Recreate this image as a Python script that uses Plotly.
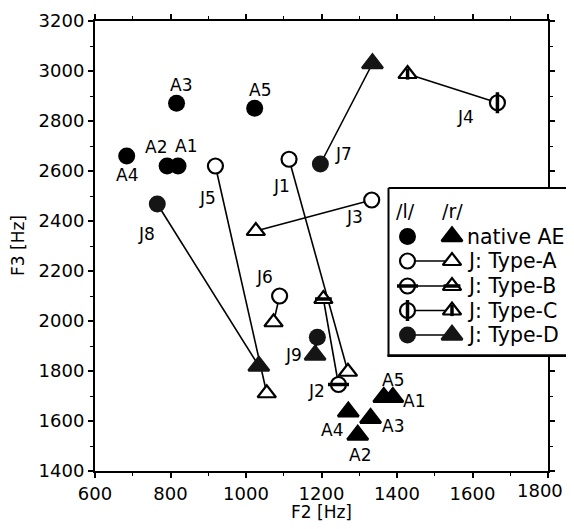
import plotly.graph_objects as go

# ---------------- data ----------------
native_labels = ["A1", "A2", "A3", "A4", "A5"]
native_l_f2 = [820, 791, 816, 684, 1023]
native_l_f3 = [2620, 2620, 2871, 2660, 2851]
native_r_f2 = [1389, 1296, 1330, 1271, 1365]
native_r_f3 = [1695, 1544, 1611, 1637, 1695]

j_labels = ["J1", "J2", "J3", "J4", "J5", "J6", "J7", "J8", "J9"]
j_l_f2 = [1114, 1245, 1333, 1666, 919, 1089, 1197, 765, 1189]
j_l_f3 = [2647, 1746, 2484, 2873, 2620, 2100, 2628, 2468, 1935]
j_r_f2 = [1270, 1205, 1026, 1428, 1055, 1073, 1335, 1034, 1183]
j_r_f3 = [1797, 2088, 2360, 2988, 1711, 1995, 3030, 1820, 1864]
j_type = ["A", "B", "A", "C", "A", "A", "D", "D", "D"]

x_ticks = [600, 800, 1000, 1200, 1400, 1600, 1800]
y_ticks = [1400, 1600, 1800, 2000, 2200, 2400, 2600, 2800, 3000, 3200]

legend_rows = ["native AE", "J: Type-A", "J: Type-B", "J: Type-C", "J: Type-D"]
legend_kinds = ["N", "A", "B", "C", "D"]

# ---------------- styling ----------------
FONT = "DejaVu Sans"
OFF = 8                      # page body margin
W, H = 574 - 2 * OFF, 529 - 2 * OFF   # keep the page free of scrollbars
ML = 95 - OFF                # left edge of plot (page x 95)
MT = 21 - OFF                # top edge of plot (page y 21)
PB = 471 - OFF               # bottom of plot (page y 471)
MB = H - PB
PLOT_R = 548 - OFF           # right edge of main plot
PW = W - ML
PH = PB - MT

fig = go.Figure()


def add_marks(x, y, kind, shape, xa="x", ya="y"):
    tri = shape == "triangle-up"
    if kind in ("N", "D"):
        col = "black" if kind == "N" else "#151515"
        fig.add_trace(go.Scatter(x=x, y=y, mode="markers", xaxis=xa, yaxis=ya,
                                 hoverinfo="skip", showlegend=False,
                                 marker=dict(symbol=shape, size=18 if tri else 17, color=col,
                                             line=dict(color=col, width=2.5 if tri else 0))))
        return
    fig.add_trace(go.Scatter(x=x, y=y, mode="markers", xaxis=xa, yaxis=ya,
                             hoverinfo="skip", showlegend=False,
                             marker=dict(symbol=shape, size=16 if tri else 15, color="white",
                                         line=dict(color="black", width=2.2))))
    if kind == "B":
        fig.add_trace(go.Scatter(x=x, y=y, mode="markers", xaxis=xa, yaxis=ya,
                                 hoverinfo="skip", showlegend=False,
                                 marker=dict(symbol="line-ew", size=12 if tri else 15,
                                             line=dict(color="black", width=3.5))))
    if kind == "C":
        fig.add_trace(go.Scatter(x=x, y=y, mode="markers", xaxis=xa, yaxis=ya,
                                 hoverinfo="skip", showlegend=False,
                                 marker=dict(symbol="line-ns", size=8 if tri else 15,
                                             line=dict(color="black", width=3.5))))


# connecting lines for Japanese speakers
lx, ly = [], []
for i in range(len(j_labels)):
    lx += [j_l_f2[i], j_r_f2[i], None]
    ly += [j_l_f3[i], j_r_f3[i], None]
fig.add_trace(go.Scatter(x=lx, y=ly, mode="lines", hoverinfo="skip", showlegend=False,
                         line=dict(color="black", width=1.6)))

add_marks(native_l_f2, native_l_f3, "N", "circle")
add_marks(native_r_f2, native_r_f3, "N", "triangle-up")
for t in ["A", "B", "C", "D"]:
    idx = [i for i, k in enumerate(j_type) if k == t]
    add_marks([j_r_f2[i] for i in idx], [j_r_f3[i] for i in idx], t, "triangle-up")
    add_marks([j_l_f2[i] for i in idx], [j_l_f3[i] for i in idx], t, "circle")

# ---------------- point labels ----------------
ann = []
off_l = {"A1": (8, -20), "A2": (-11, -19), "A3": (4, -18), "A4": (0, 19), "A5": (5, -18)}
off_r = {"A1": (21, 4), "A2": (2, 20), "A3": (22, 8), "A4": (-16, 18), "A5": (9, -17)}
off_j = {"J1": (-8, 27), "J2": (-22, 6), "J3": (-17, 17), "J4": (-32, 14), "J5": (-8, 32),
         "J6": (-15, -19), "J7": (23, -10), "J8": (-11, 30), "J9": (-22, 0)}


def lab(x, y, text, off):
    ann.append(dict(x=x, y=y, xref="x", yref="y", text=text, showarrow=False,
                    xshift=off[0], yshift=-off[1], font=dict(family=FONT, size=17, color="black")))


for i, n in enumerate(native_labels):
    lab(native_l_f2[i], native_l_f3[i], n, off_l[n])
    lab(native_r_f2[i], native_r_f3[i], n, off_r[n])
for i, n in enumerate(j_labels):
    if n == "J9":
        lab(j_r_f2[i], j_r_f3[i], n, off_j[n])
    else:
        lab(j_l_f2[i], j_l_f3[i], n, off_j[n])

# ---------------- legend (separate subplot, page-pixel units) ----------------
LX0, LX1, LY0, LY1 = 387, 574 - OFF, 187, 357
fig.add_trace(go.Scatter(x=[388.5, 620, 620, 388.5, 388.5], y=[188, 188, 355.5, 355.5, 188],
                         mode="lines", fill="toself", fillcolor="white", xaxis="x2", yaxis="y2",
                         line=dict(color="black", width=2), hoverinfo="skip", showlegend=False))
fig.add_trace(go.Scatter(x=[387.5, 620], y=[356, 356], mode="lines", xaxis="x2", yaxis="y2",
                         line=dict(color="black", width=3), hoverinfo="skip", showlegend=False))
row_y = [236.5, 261, 286, 310.5, 335]
cx, tx, txt_x = 407.5, 452, 465
for k, yv, name in zip(legend_kinds, row_y, legend_rows):
    if k != "N":
        fig.add_trace(go.Scatter(x=[cx, tx], y=[yv, yv], mode="lines", xaxis="x2", yaxis="y2",
                                 line=dict(color="black", width=1.6), hoverinfo="skip",
                                 showlegend=False))
    add_marks([tx], [yv], k, "triangle-up", "x2", "y2")
    add_marks([cx], [yv], k, "circle", "x2", "y2")
    ann.append(dict(x=txt_x, y=yv, xref="x2", yref="y2", text=name, showarrow=False,
                    xanchor="left", yanchor="middle",
                    font=dict(family=FONT, size=20.5, color="black")))
ann.append(dict(x=405, y=211, xref="x2", yref="y2", text="/l/", showarrow=False,
                font=dict(family=FONT, size=19, color="black")))
ann.append(dict(x=452, y=211, xref="x2", yref="y2", text="/r/", showarrow=False,
                font=dict(family=FONT, size=19, color="black")))

# last x tick label, pulled in so it stays inside the page
ann.append(dict(x=x_ticks[-1], y=0, xref="x", yref="paper", text=str(x_ticks[-1]),
                showarrow=False, xanchor="right", yanchor="middle", xshift=17, yshift=-19,
                font=dict(family=FONT, size=18, color="black")))

# ---------------- axis titles (page-pixel positions) ----------------
ann.append(dict(x=((95 + 548) / 2 - 95) / PW, y=(471 - 512) / PH, xref="paper", yref="paper",
                text="F2 [Hz]", showarrow=False, yanchor="middle",
                font=dict(family=FONT, size=17, color="black")))
ann.append(dict(x=(18 - 95) / PW, y=0.5, xref="paper", yref="paper", text="F3 [Hz]",
                showarrow=False, textangle=-90, xanchor="center", yanchor="middle",
                font=dict(family=FONT, size=17, color="black")))

axis_common = dict(showgrid=False, zeroline=False, showline=True, linecolor="black", linewidth=2,
                   mirror="ticks", ticks="outside", ticklen=5, tickwidth=1.5, tickcolor="black",
                   layer="below traces",
                   tickfont=dict(family=FONT, size=18, color="black"),
                   minor=dict(ticks="outside", ticklen=3, tickwidth=1.2, tickcolor="black"))

fig.update_layout(
    width=W, height=H,
    margin=dict(l=ML, r=0, t=MT, b=MB, pad=0),
    paper_bgcolor="white", plot_bgcolor="white",
    showlegend=False,
    annotations=ann,
    xaxis=dict(range=[600, 1800], tickvals=x_ticks,
               ticktext=[str(v) for v in x_ticks[:-1]] + [""],
               domain=[0, (PLOT_R - ML) / PW], minor_dtick=100, **axis_common),
    yaxis=dict(range=[1400, 3200], tickvals=y_ticks, ticktext=[str(v) for v in y_ticks],
               minor_dtick=100, **axis_common),
    xaxis2=dict(domain=[(LX0 - 95) / PW, 1], range=[LX0, LX1], visible=False, anchor="y2",
                fixedrange=True),
    yaxis2=dict(domain=[(471 - LY1) / PH, (471 - LY0) / PH], range=[LY1, LY0],
                visible=False, anchor="x2", fixedrange=True),
)

fig.write_html("out.html")
